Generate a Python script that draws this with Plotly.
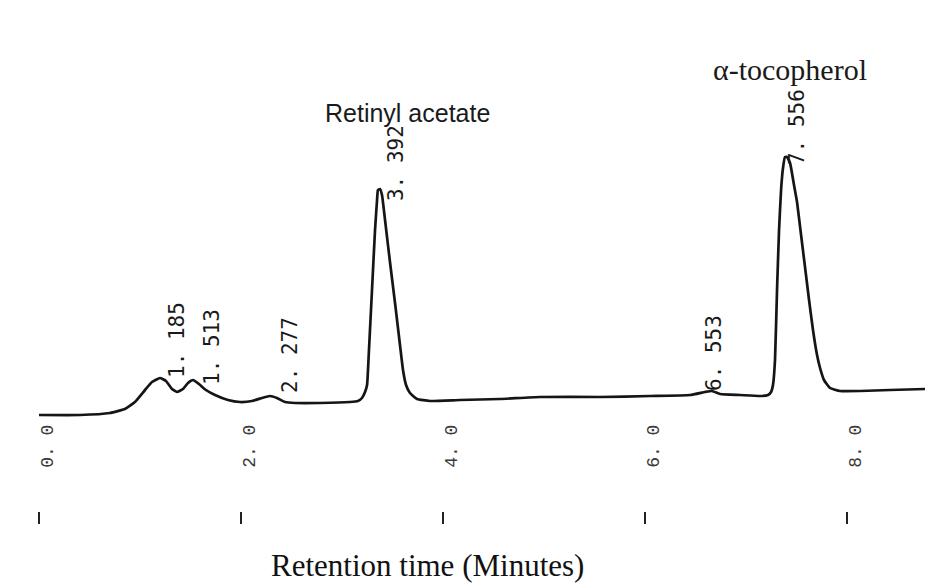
import plotly.graph_objects as go

# Chromatogram trace (time in min, signal in arbitrary units)
time_min = [0.000, 0.406, 0.703, 0.851, 0.950, 1.050, 1.119, 1.198, 1.257, 1.317,
            1.366, 1.426, 1.475, 1.525, 1.584, 1.653, 1.743, 1.871, 1.990, 2.109,
            2.208, 2.287, 2.356, 2.436, 2.535, 2.782, 3.079, 3.158, 3.198, 3.228,
            3.248, 3.267, 3.297, 3.327, 3.347, 3.356, 3.376, 3.396, 3.426, 3.475,
            3.525, 3.574, 3.604, 3.634, 3.673, 3.743, 3.871, 4.168, 4.564, 4.960,
            5.554, 6.050, 6.446, 6.594, 6.663, 6.743, 6.941, 7.139, 7.218, 7.248,
            7.267, 7.287, 7.307, 7.327, 7.347, 7.366, 7.386, 7.406, 7.436, 7.475,
            7.505, 7.545, 7.584, 7.624, 7.663, 7.703, 7.733, 7.772, 7.832, 7.931,
            8.129, 8.426, 8.772]
signal = [0.0, 0.0, 0.2, 0.6, 1.3, 2.5, 3.3, 3.7, 3.4, 2.6,
          2.3, 2.6, 3.2, 3.5, 3.1, 2.5, 2.0, 1.5, 1.3, 1.4,
          1.7, 1.9, 1.7, 1.3, 1.2, 1.2, 1.3, 1.4, 1.7, 2.3,
          3.0, 6.5, 12.5, 18.5, 21.5, 22.5, 22.6, 22.0, 19.5, 15.3,
          11.2, 7.0, 4.5, 3.0, 2.2, 1.6, 1.4, 1.5, 1.6, 1.8,
          1.8, 1.9, 2.0, 2.3, 2.4, 2.1, 2.0, 1.9, 2.0, 2.3,
          3.0, 5.5, 12.5, 18.5, 22.5, 24.7, 25.8, 25.8, 25.2, 23.0,
          21.3, 18.0, 14.8, 11.5, 8.5, 6.0, 4.7, 3.5, 2.7, 2.4,
          2.4, 2.5, 2.6]

# Retention-time labels printed by the integrator
peak_labels = ["1. 185", "1. 513", "2. 277", "3. 392", "6. 553", "7. 556"]
peak_label_time = [1.366, 1.713, 2.485, 3.535, 6.683, 7.505]
peak_label_level = [3.5, 2.8, 2.0, 21.2, 2.2, 24.8]

# Compound names
compound_names = ["Retinyl acetate", "α-tocopherol"]
compound_time = [3.653, 7.436]
compound_level = [30.2, 34.6]
compound_fonts = [dict(family="Liberation Sans, Arial", size=25, color="#1a1a1a"),
                  dict(family="Liberation Serif, Times New Roman", size=30, color="#1a1a1a")]

# Axis ticks
tick_values = [0, 2, 4, 6, 8]
tick_text = ["0. 0", "2. 0", "4. 0", "6. 0", "8. 0"]
x_range = [-0.386, 8.772]
y_range = [-9.6, 41.5]

fig = go.Figure()
fig.add_trace(go.Scatter(
    x=time_min, y=signal, mode="lines",
    line=dict(color="#151515", width=2.7, shape="spline", smoothing=0.4),
    hoverinfo="skip", showlegend=False,
))
# invisible trace on the tick-mark axis so it gets drawn
fig.add_trace(go.Scatter(x=[time_min[0]], y=[signal[0]], xaxis="x2", mode="markers",
                         marker=dict(opacity=0), showlegend=False, hoverinfo="skip"))

for lab, t, lv in zip(peak_labels, peak_label_time, peak_label_level):
    fig.add_annotation(x=t, y=lv, text=lab, textangle=-90, showarrow=False,
                       xanchor="center", yanchor="bottom",
                       font=dict(family="DejaVu Sans Mono, monospace", size=21, color="#1a1a1a"))

for name, t, lv, f in zip(compound_names, compound_time, compound_level, compound_fonts):
    fig.add_annotation(x=t, y=lv, text=name, showarrow=False,
                       xanchor="center", yanchor="middle", font=f)

fig.add_annotation(xref="paper", yref="paper", x=0.4627, y=-0.1057,
                   text="Retention time (Minutes)", showarrow=False,
                   xanchor="center", yanchor="middle",
                   font=dict(family="Liberation Serif, Times New Roman", size=31, color="#111111"))

fig.update_layout(
    width=925, height=586,
    margin=dict(l=0, r=0, t=0, b=75),
    paper_bgcolor="white", plot_bgcolor="white",
    xaxis=dict(range=x_range, tickvals=tick_values, ticktext=tick_text,
               tickangle=-90, ticks="", showline=False, showgrid=False, zeroline=False,
               anchor="free", position=0.178, ticklabelshift=8,
               tickfont=dict(family="Liberation Mono, monospace", size=18, color="#3a3a3a")),
    xaxis2=dict(range=x_range, overlaying="x", side="bottom", anchor="free", position=0,
                tickvals=tick_values, showticklabels=False, ticks="outside",
                ticklen=12, tickwidth=2, tickcolor="#222222",
                showline=False, showgrid=False, zeroline=False),
    yaxis=dict(range=y_range, visible=False, showgrid=False, zeroline=False),
)

fig.write_html("out.html", config={"displayModeBar": False},
               post_script="document.body.style.margin='0px';")
